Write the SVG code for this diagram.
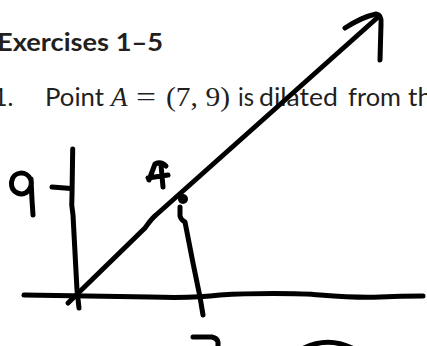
<svg xmlns="http://www.w3.org/2000/svg" width="427" height="346" viewBox="0 0 427 346">
<style>
.t{font-family:Lato,"Open Sans","Liberation Sans",sans-serif;fill:#231f20}
.h{font-weight:bold;font-size:25px}
.b{font-size:25px}
.m{font-family:"Liberation Serif","DejaVu Serif",serif;fill:#231f20;font-size:27px}
.ink{fill:none;stroke:#000;stroke-width:5;stroke-linecap:round;stroke-linejoin:round}
</style>
<rect width="427" height="346" fill="#fff"/>
<g id="text">
<text class="t h" x="-3" y="51" textLength="166" lengthAdjust="spacingAndGlyphs">Exercises 1–5</text>
<text class="t b" x="-7" y="106">1.</text>
<text class="t b" x="45" y="106" textLength="59" lengthAdjust="spacingAndGlyphs">Point</text>
<text class="m" x="111" y="106" font-style="italic">A</text>
<text class="m" x="136" y="106" textLength="20" lengthAdjust="spacingAndGlyphs">=</text>
<text class="m" x="166" y="106" textLength="64" lengthAdjust="spacingAndGlyphs">(7, 9)</text>
<text class="t b" x="238" y="106" textLength="16" lengthAdjust="spacingAndGlyphs">is</text>
<text class="t b" x="259" y="106" textLength="79" lengthAdjust="spacingAndGlyphs">dilated</text>
<text class="t b" x="348" y="106" textLength="53" lengthAdjust="spacingAndGlyphs">from</text>
<text class="t b" x="408" y="106" textLength="24" lengthAdjust="spacingAndGlyphs">th</text>
</g>
<g id="axes">
<path class="ink" d="M72.7,149 L72,195 Q71,205 73,215 L77,290 L79,308"/>
<path class="ink" d="M24,295 L150,297 C180,298 205,297 220,295 C250,293 300,293 320,295 C345,297 360,298 380,297 C400,296 415,296 423,296"/>
<path class="ink" d="M52,187 L71,188.5"/>
<path class="ink" d="M31,180 C27,170 13,171 11.5,182 C10.5,193 22,197 28,191 C31,188 32,184 31,179 L32,200 L33,215"/>
</g>
<g id="ray">
<path class="ink" d="M68,303 L145,228 C148,224 151,219 156,215 L377,18"/>
<path class="ink" stroke-width="6" d="M345,28 Q362,17 376,14 Q382,15 381,24 L380,60"/>
</g>
<g id="pointA">
<circle cx="183" cy="199" r="5" fill="#000"/>
<path class="ink" d="M149,180 L155,164 Q161,161 166,166 M161,165 L163,187 M148,178 L168,175"/>
<path class="ink" d="M180,207 L180,216 Q181,220 185,222 L193,263 L200,297 L203,315"/>
</g>
<g id="bottom">
<path class="ink" d="M193,337 L212,337 Q217,338 218,342 L218,350"/>
<path class="ink" d="M302,349 Q327,336 352,348"/>
</g>
</svg>
